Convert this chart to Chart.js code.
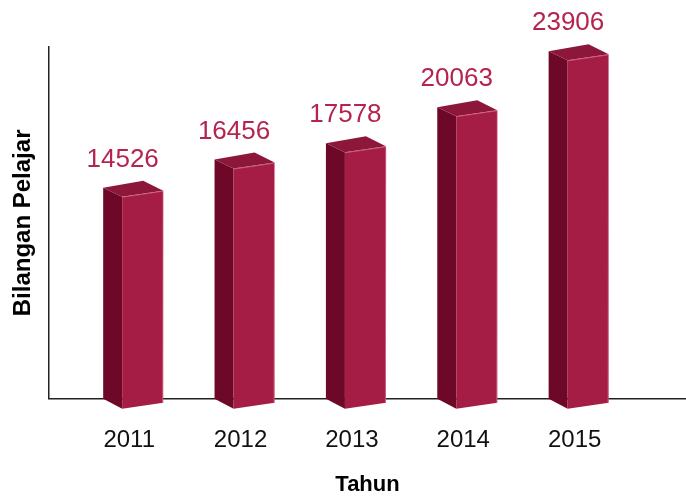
<!DOCTYPE html>
<html>
<head>
<meta charset="utf-8">
<script src="https://cdn.jsdelivr.net/npm/chart.js@4.4.1/dist/chart.umd.min.js"></script>
<style>
  body { margin: 0; background: #fff; }
  #wrap { width: 686px; height: 497px; }
</style>
</head>
<body>
<div id="wrap"><canvas id="myChart" width="686" height="497"></canvas></div>
<script>
const years = [2011, 2012, 2013, 2014, 2015];
const students = [14526, 16456, 17578, 20063, 23906];

const FONT = '"Liberation Sans", Arial, Helvetica, sans-serif';
const front = '#a51c44';
const side = '#6d0828';
const topFace = '#8d173b';
const labelColor = '#b5244e';

// draws each bar as a little 3D box plus the value on top
const box3d = {
  id: 'box3d',
  afterDatasetsDraw(chart) {
    const ctx = chart.ctx;
    const bot = chart.chartArea.bottom;
    const meta = chart.getDatasetMeta(0);
    meta.data.forEach((bar, i) => {
      const x = bar.x, y = bar.y;
      const L = x - 7, R = L + 41, S = L - 19;
      const poly = (pts, fill) => {
        ctx.beginPath();
        ctx.moveTo(pts[0][0], pts[0][1]);
        pts.slice(1).forEach(p => ctx.lineTo(p[0], p[1]));
        ctx.closePath();
        ctx.fillStyle = fill;
        ctx.fill();
      };
      ctx.save();
      poly([[S, y], [L, y + 9], [L, bot + 10], [S, bot]], side);
      poly([[L, y + 9], [R, y + 3], [R, bot + 4], [L, bot + 10]], front);
      poly([[S, y], [L, y + 9], [R, y + 3], [R - 20, y - 7]], topFace);
      // faint highlight on the front edges
      ctx.strokeStyle = 'rgba(235,140,170,0.55)';
      ctx.lineWidth = 1;
      ctx.beginPath();
      ctx.moveTo(L, y + 9.5); ctx.lineTo(R, y + 3.5); ctx.lineTo(R - 0.5, bot + 4);
      ctx.stroke();

      ctx.fillStyle = labelColor;
      ctx.font = '26px ' + FONT;
      ctx.textAlign = 'center';
      ctx.textBaseline = 'alphabetic';
      ctx.fillText(String(students[i]), x - 6.5, y - 21);
      ctx.restore();
    });
  }
};

const ctx = document.getElementById('myChart').getContext('2d');
const myChart = new Chart(ctx, {
  type: 'bar',
  data: {
    datasets: [{
      label: 'Bilangan Pelajar',
      data: years.map((yr, i) => ({ x: yr, y: students[i] })),
      backgroundColor: 'rgba(0,0,0,0)',
      barPercentage: 1,
      categoryPercentage: 0.37
    }]
  },
  options: {
    responsive: false,
    animation: false,
    layout: { padding: { left: 5, right: 0, top: 47, bottom: 0 } },
    plugins: {
      legend: { display: false },
      tooltip: { enabled: false }
    },
    scales: {
      x: {
        type: 'linear',
        offset: false,
        min: 2010.28,
        max: 2016,
        afterBuildTicks: axis => { axis.ticks = years.map(v => ({ value: v })); },
        grid: { display: false, drawTicks: false },
        border: { display: true, color: '#222', width: 1.5 },
        ticks: {
          autoSkip: false,
          maxRotation: 0,
          padding: 27.5,
          color: '#111',
          font: { family: FONT, size: 24 },
          callback: v => String(v)
        },
        title: {
          display: true,
          text: 'Tahun',
          color: '#000',
          font: { family: FONT, size: 22, weight: 'bold' },
          padding: { top: -11, bottom: -1 }
        }
      },
      y: {
        min: 0,
        max: 24200,
        grid: { display: false, drawTicks: false },
        border: { display: true, color: '#222', width: 1.5 },
        ticks: { display: false },
        title: {
          display: true,
          text: 'Bilangan Pelajar',
          color: '#000',
          font: { family: FONT, size: 24, weight: 'bold' },
          padding: { top: 4, bottom: 11.2 }
        }
      }
    }
  },
  plugins: [box3d]
});

console.log(myChart.chartArea);
</script>
</body>
</html>
